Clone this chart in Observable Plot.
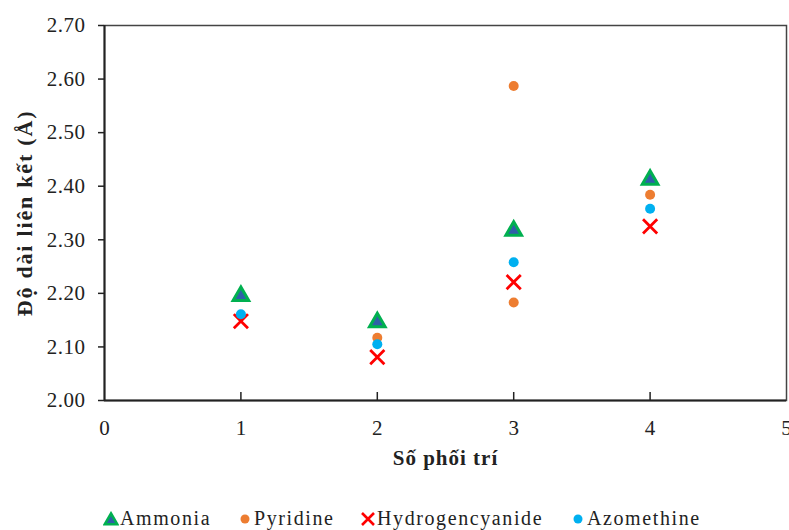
<!DOCTYPE html>
<html>
<head>
<meta charset="utf-8">
<script src="https://cdn.jsdelivr.net/npm/d3@7"></script>
<script src="https://cdn.jsdelivr.net/npm/@observablehq/plot@0.6"></script>
<style>
  html, body { margin: 0; padding: 0; background: white; }
  #chart { width: 789px; position: relative; }
  .legend { position: relative; height: 40px;
    font-family: "Liberation Serif", Tinos, "DejaVu Serif", serif; font-size: 20px; color: #222; letter-spacing: 1.6px; }
  .legend .item { position: absolute; top: 17px; display: flex; align-items: center; white-space: nowrap; }
  .legend svg { margin-right: 1px; }
</style>
</head>
<body>
<div id="chart"></div>
<script>
// ---- data ----
const seriesNames = ["Ammonia", "Pyridine", "Hydrogencyanide", "Azomethine"];
const ammoniaX = [1, 2, 3, 4];
const ammoniaY = [2.195, 2.146, 2.317, 2.412];
const pyridineX = [2, 3, 3, 4];
const pyridineY = [2.117, 2.587, 2.183, 2.384];
const hcnX = [1, 2, 3, 4];
const hcnY = [2.148, 2.081, 2.221, 2.325];
const azomethineX = [1, 2, 3, 4];
const azomethineY = [2.161, 2.105, 2.258, 2.358];
const xTickValues = [0, 1, 2, 3, 4, 5];
const yTickValues = [2.0, 2.1, 2.2, 2.3, 2.4, 2.5, 2.6, 2.7];
const xTitle = "Số phối trí";
const yTitle = "Độ dài liên kết (Å)";

const toRows = (xs, ys) => xs.map((x, i) => ({x, y: ys[i]}));
const ammonia = toRows(ammoniaX, ammoniaY);
const pyridine = toRows(pyridineX, pyridineY);
const hcn = toRows(hcnX, hcnY);
const azomethine = toRows(azomethineX, azomethineY);

const colors = {
  Ammonia: "#00B050",
  AmmoniaFill: "#2F5FA8",
  Pyridine: "#ED7D31",
  Hydrogencyanide: "#FF0000",
  Azomethine: "#00B0F0"
};

const FONT = "Liberation Serif, Tinos, DejaVu Serif, serif";

const chart = Plot.plot({
  width: 789,
  height: 490,
  marginTop: 25,
  marginBottom: 90,
  marginLeft: 104,
  marginRight: 3,
  x: {domain: [0, 5]},
  y: {domain: [2.0, 2.7]},
  style: {fontFamily: FONT, fontSize: "21px", color: "#222", background: "white"},
  marks: [
    Plot.frame({stroke: "#444", strokeWidth: 1.5}),
    Plot.axisY({ticks: yTickValues, tickFormat: d => d.toFixed(2), tickSize: 6, tickPadding: 13, label: null, fontSize: 21, strokeWidth: 1.5}),
    Plot.axisX({ticks: xTickValues, tickFormat: d => String(d), tickSize: 0, tickPadding: 20, label: null, fontSize: 21}),
    Plot.tickX(xTickValues.slice(1, 5), {insetTop: 367, stroke: "#222", strokeWidth: 1.5}),
    Plot.ruleY([2.0], {stroke: "#222", strokeWidth: 2}),
    Plot.ruleX([0], {stroke: "#222", strokeWidth: 2}),
    Plot.dot(ammonia, {x: "x", y: "y", symbol: "triangle", r: 5.8, fill: colors.AmmoniaFill, stroke: colors.Ammonia, strokeWidth: 3}),
    Plot.dot(pyridine, {x: "x", y: "y", r: 5, fill: colors.Pyridine}),
    Plot.dot(hcn, {x: "x", y: "y", symbol: "times", r: 6.5, stroke: colors.Hydrogencyanide, strokeWidth: 2.8}),
    Plot.dot(azomethine, {x: "x", y: "y", r: 5, fill: colors.Azomethine}),
    Plot.text([yTitle], {frameAnchor: "left", textAnchor: "middle", dx: -80, rotate: -90, text: d => d, fontWeight: "bold", fontSize: 22}),
    Plot.text([xTitle], {frameAnchor: "bottom", textAnchor: "middle", dy: 64, text: d => d, fontWeight: "bold", fontSize: 21})
  ]
});
chart.querySelectorAll("text").forEach(t => t.setAttribute("font-family", FONT));
chart.querySelectorAll("g[aria-label='text'] text").forEach((t, i) => {
  t.setAttribute("letter-spacing", i === 0 ? "1.8" : "1");
});
chart.querySelectorAll("g[aria-label='y-axis tick label'] text").forEach(t => t.setAttribute("letter-spacing", "0.5"));
document.getElementById("chart").appendChild(chart);

// ---- legend ----
const legend = document.createElement("div");
legend.className = "legend";
const legendLeft = [103, 237, 360, 570];
const markerSvg = {
  Ammonia: `<svg width="16" height="16" viewBox="-8 -8 16 16"><path d="M0,-5.5L6.2,5.2L-6.2,5.2Z" fill="${colors.AmmoniaFill}" stroke="${colors.Ammonia}" stroke-width="2.6" stroke-linejoin="miter"/></svg>`,
  Pyridine: `<svg width="16" height="16" viewBox="-8 -8 16 16"><circle r="4.5" fill="${colors.Pyridine}"/></svg>`,
  Hydrogencyanide: `<svg width="16" height="16" viewBox="-8 -8 16 16"><path d="M-6,-6L6,6M-6,6L6,-6" stroke="${colors.Hydrogencyanide}" stroke-width="2.6"/></svg>`,
  Azomethine: `<svg width="16" height="16" viewBox="-8 -8 16 16"><circle r="4.5" fill="${colors.Azomethine}"/></svg>`
};
seriesNames.forEach((name, i) => {
  const item = document.createElement("span");
  item.className = "item";
  item.style.left = legendLeft[i] + "px";
  item.innerHTML = markerSvg[name] + `<span>${name}</span>`;
  legend.appendChild(item);
});
document.getElementById("chart").appendChild(legend);
</script>
</body>
</html>
